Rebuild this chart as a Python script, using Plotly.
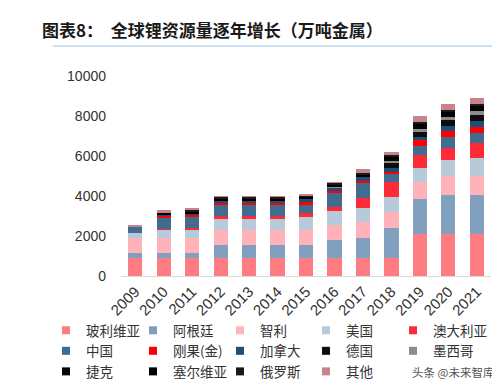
import plotly.graph_objects as go

years = ["2009", "2010", "2011", "2012", "2013", "2014", "2015",
         "2016", "2017", "2018", "2019", "2020", "2021"]

bolivia   = [900, 900, 900, 900, 900, 900, 900, 900, 900, 900, 2100, 2100, 2100]
argentina = [260, 260, 260, 650, 650, 650, 650, 920, 980, 1480, 1750, 1930, 1930]
chile     = [750, 750, 750, 750, 750, 750, 750, 750, 840, 800, 830, 960, 980]
usa       = [250, 400, 400, 550, 550, 550, 670, 700, 680, 750, 720, 790, 910]
australia = [0, 63, 100, 170, 170, 170, 170, 170, 500, 780, 630, 640, 730]
china     = [270, 540, 540, 540, 540, 540, 450, 700, 750, 430, 450, 510, 510]
congo     = [0, 100, 100, 100, 100, 100, 100, 100, 100, 80, 300, 300, 300]
canada    = [0, 36, 36, 100, 100, 100, 150, 200, 200, 200, 150, 290, 290]
germany   = [0, 0, 0, 0, 0, 0, 0, 0, 0, 250, 250, 270, 320]
mexico    = [0, 0, 0, 0, 0, 0, 0, 18, 18, 100, 170, 170, 170]
czech     = [0, 0, 0, 0, 0, 0, 0, 0, 0, 100, 130, 130, 130]
serbia    = [0, 100, 100, 100, 100, 100, 100, 100, 100, 100, 100, 120, 120]
russia    = [0, 0, 100, 100, 100, 100, 100, 100, 100, 100, 100, 100, 100]
other     = [130, 150, 114, 20, 20, 20, 60, 40, 170, 140, 300, 290, 310]

series = [
    ("玻利维亚", bolivia, "#FF7C82"),
    ("阿根廷", argentina, "#819FBE"),
    ("智利", chile, "#FFB3B8"),
    ("美国", usa, "#B7CADA"),
    ("澳大利亚", australia, "#FF2A38"),
    ("中国", china, "#3F6C8F"),
    ("刚果(金)", congo, "#FF0000"),
    ("加拿大", canada, "#1F4E78"),
    ("德国", germany, "#0D0D0D"),
    ("墨西哥", mexico, "#8C8C8C"),
    ("捷克", czech, "#050505"),
    ("塞尔维亚", serbia, "#000000"),
    ("俄罗斯", russia, "#1A1A1A"),
    ("其他", other, "#C8848C"),
]

legend_ids = ["legend", "legend2", "legend3", "legend4", "legend5"]

fig = go.Figure()
for name, vals, col in series:
    fig.add_trace(go.Bar(x=years, y=vals, name=name, marker=dict(color=col, line=dict(width=0)),
                         showlegend=False, legendgroup=name))
for i, (name, vals, col) in enumerate(series):
    fig.add_trace(go.Scatter(x=[None], y=[None], mode="markers", name=name, legendgroup=name,
                             legend=legend_ids[i % 5],
                             marker=dict(symbol="square", size=8, color=col), showlegend=True))

legend_style = dict(orientation="v", xanchor="left", y=-0.195, yanchor="top",
                    traceorder="normal", tracegroupgap=0,
                    font=dict(family="Noto Sans CJK SC", size=13.5, color="#333333"),
                    bgcolor="rgba(0,0,0,0)", itemclick=False)
col_text_px = [78, 165, 252, 338, 425]
legend_layout = {}
for lid, tx in zip(legend_ids, col_text_px):
    legend_layout[lid] = dict(legend_style, x=(tx - 40 - 113) / 370)

fig.update_layout(
    width=500, height=388,
    margin=dict(l=113, r=17, t=68, b=120, autoexpand=False),
    paper_bgcolor="white", plot_bgcolor="white",
    barmode="stack", bargap=0.5,
    font=dict(family="Liberation Sans, Arial, sans-serif", size=14, color="#333333"),
    title=dict(text="<b>图表8：  全球锂资源量逐年增长（万吨金属）</b>",
               x=34/500, xanchor="left", xref="container",
               y=1-23/388, yanchor="middle", yref="container",
               font=dict(family="Noto Sans CJK SC", size=17, color="#1a1a1a")),
    showlegend=True,
    **legend_layout,
)
fig.update_xaxes(type="category", tickangle=-45, showline=True, linecolor="#D9D9D9", linewidth=1,
                 ticks="", showgrid=False, tickfont=dict(size=15, color="#333333"))
fig.update_yaxes(range=[0, 10000], dtick=2000, tickformat="d", showgrid=False, showline=False, ticks="",
                 zeroline=False, ticklabelstandoff=14, tickfont=dict(size=14, color="#333333"))

fig.add_shape(type="line", xref="paper", yref="paper", x0=-0.184, x1=1.046, y0=1.15, y1=1.15,
              line=dict(color="#BDD7EE", width=1.5))
fig.add_shape(type="line", xref="paper", yref="paper", x0=-0.184, x1=1.046, y0=-0.5925, y1=-0.5925,
              line=dict(color="#2F5597", width=2))
fig.add_annotation(text="头条 @未来智库", xref="paper", yref="paper", x=(488 - 113) / 370, y=-0.53,
                   xanchor="right", showarrow=False,
                   font=dict(family="Noto Sans CJK SC", size=11.5, color="#555555"))

fig.write_html("out.html")
